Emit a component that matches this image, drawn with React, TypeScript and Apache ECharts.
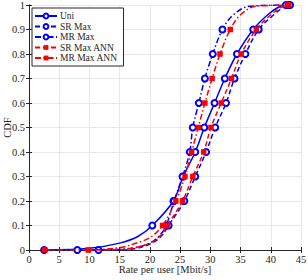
import React, { useEffect, useRef } from "react";
import * as echarts from "echarts";

const cdfLevels = [0, 0.1, 0.2, 0.3, 0.4, 0.5, 0.6, 0.7, 0.8, 0.9, 1.0];
const uniRates = [2.5, 20.4, 23.9, 25.5, 27.5, 29.0, 30.7, 32.4, 34.4, 37.1, 43.0];
const srMaxRates = [11.5, 23.1, 25.7, 27.5, 29.3, 30.8, 32.6, 34.0, 35.8, 38.0, 43.2];
const mrMaxRates = [8.0, 22.7, 24.0, 25.4, 26.6, 27.1, 28.1, 29.1, 30.4, 32.0, 42.5];
const srAnnRates = [9.8, 22.9, 25.4, 27.1, 28.9, 30.1, 31.8, 33.5, 35.1, 37.6, 43.0];
const mrAnnRates = [2.6, 22.1, 24.3, 25.8, 26.9, 28.0, 29.1, 30.3, 31.6, 33.3, 42.8];

// curve-shape points (no marker)
const uniShape = [[10, 0.007], [15, 0.028], [18, 0.055], [39.5, 0.96], [41.5, 0.994]];
const srMaxShape = [[15, 0.0], [18, 0.008], [20.5, 0.03], [22, 0.06], [40.5, 0.96], [42.3, 0.995]];
const mrMaxShape = [[15, 0.003], [18, 0.012], [20.5, 0.035], [21.8, 0.065], [33.8, 0.96], [36.5, 0.995]];
const srAnnShape = [[15, 0.002], [18, 0.012], [20.5, 0.035], [22, 0.065], [40, 0.96], [42, 0.995]];
const mrAnnShape = [[10, 0.001], [15, 0.01], [18, 0.03], [20.3, 0.055], [35, 0.96], [37.5, 0.995]];

const seriesNames = ["Uni", "SR Max", "MR Max", "SR Max ANN", "MR Max ANN"];

function buildData(rates: number[], shape: number[][]) {
  const pts: any[] = rates.map((r, i) => ({ value: [r, cdfLevels[i]] }));
  shape.forEach((p) => pts.push({ value: [p[0], p[1]], symbol: "none" }));
  pts.sort((a, b) => a.value[0] - b.value[0]);
  return pts;
}

const BLUE = "#0000ff";
const RED = "#ff0000";
const DASH: number[] = [5, 3];
const DASHDOT: number[] = [6, 2.5, 1.5, 2.5];
const FONT = "'Liberation Serif', 'DejaVu Serif', serif";
const TXT = "#262626";

export default function App() {
  const ref = useRef<HTMLDivElement>(null);
  useEffect(() => {
    if (!ref.current) return;
    const chart = echarts.init(ref.current, null, { renderer: "svg" });
    const mk = (
      name: string,
      rates: number[],
      shape: number[][],
      color: string,
      type: any,
      symbol: string,
      z: number
    ) => ({
      name,
      type: "line",
      data: buildData(rates, shape),
      smooth: 0.35,
      symbol,
      symbolSize: symbol === "emptyCircle" ? 6 : 5.5,
      showAllSymbol: true,
      z,
      lineStyle: { color, width: 1.5, type },
      itemStyle: { color, borderWidth: 1.3 },
    });
    const option: any = {
      animation: false,
      textStyle: { fontFamily: FONT },
      grid: { left: 29, right: 7, top: 5, bottom: 30, containLabel: false, outerBoundsMode: "none" },
      legend: {
        orient: "vertical",
        left: 32,
        top: 8,
        data: seriesNames,
        itemWidth: 22,
        itemHeight: 6,
        itemGap: 0.5,
        padding: [3, 6, 3, 2],
        backgroundColor: "#ffffff",
        borderColor: TXT,
        borderWidth: 1,
        textStyle: { fontFamily: FONT, fontSize: 9.5, lineHeight: 10, color: TXT, padding: [0, 0, 0, -2] },
      },
      xAxis: [
        {
          type: "value",
          min: 0,
          max: 45,
          interval: 5,
          name: "Rate per user [Mbit/s]",
          nameLocation: "middle",
          nameGap: 14,
          nameMoveOverlap: false,
          nameTextStyle: { fontFamily: FONT, fontSize: 10.5, color: TXT },
          axisLine: { lineStyle: { color: TXT, width: 1 } },
          axisTick: { inside: true, length: 3, lineStyle: { color: TXT } },
          axisLabel: { fontFamily: FONT, fontSize: 10.5, color: TXT, margin: 4 },
          splitLine: { show: true, lineStyle: { color: "#e8e8e8", width: 1 } },
        },
        {
          type: "value",
          position: "top",
          min: 0,
          max: 45,
          interval: 5,
          axisLine: { show: true, lineStyle: { color: TXT, width: 1 } },
          axisTick: { inside: true, length: 3, lineStyle: { color: TXT } },
          axisLabel: { show: false },
          splitLine: { show: false },
        },
      ],
      yAxis: [
        {
          type: "value",
          min: 0,
          max: 1,
          interval: 0.1,
          name: "CDF",
          nameLocation: "middle",
          nameGap: 16,
          nameMoveOverlap: false,
          nameTextStyle: { fontFamily: FONT, fontSize: 10.5, color: TXT },
          axisLine: { show: true, lineStyle: { color: TXT, width: 1 } },
          axisTick: { show: true, inside: true, length: 3, lineStyle: { color: TXT } },
          axisLabel: {
            fontFamily: FONT,
            fontSize: 10.5,
            color: TXT,
            margin: 4,
            formatter: (v: number) => String(Math.round(v * 10) / 10),
          },
          splitLine: { show: true, lineStyle: { color: "#e8e8e8", width: 1 } },
        },
        {
          type: "value",
          position: "right",
          min: 0,
          max: 1,
          interval: 0.1,
          axisLine: { show: true, lineStyle: { color: TXT, width: 1 } },
          axisTick: { show: true, inside: true, length: 3, lineStyle: { color: TXT } },
          axisLabel: { show: false },
          splitLine: { show: false },
        },
      ],
      series: [
        mk("Uni", uniRates, uniShape, BLUE, "solid", "emptyCircle", 2),
        mk("SR Max", srMaxRates, srMaxShape, BLUE, DASH, "emptyCircle", 3),
        mk("MR Max", mrMaxRates, mrMaxShape, BLUE, DASHDOT, "emptyCircle", 4),
        mk("SR Max ANN", srAnnRates, srAnnShape, RED, DASH, "rect", 5),
        mk("MR Max ANN", mrAnnRates, mrAnnShape, RED, DASHDOT, "rect", 6),
      ],
    };
    chart.setOption(option);
    return () => chart.dispose();
  }, []);
  return <div ref={ref} style={{ width: 308, height: 280, position: "absolute", left: 0, top: 0, background: "#fff" }} />;
}
